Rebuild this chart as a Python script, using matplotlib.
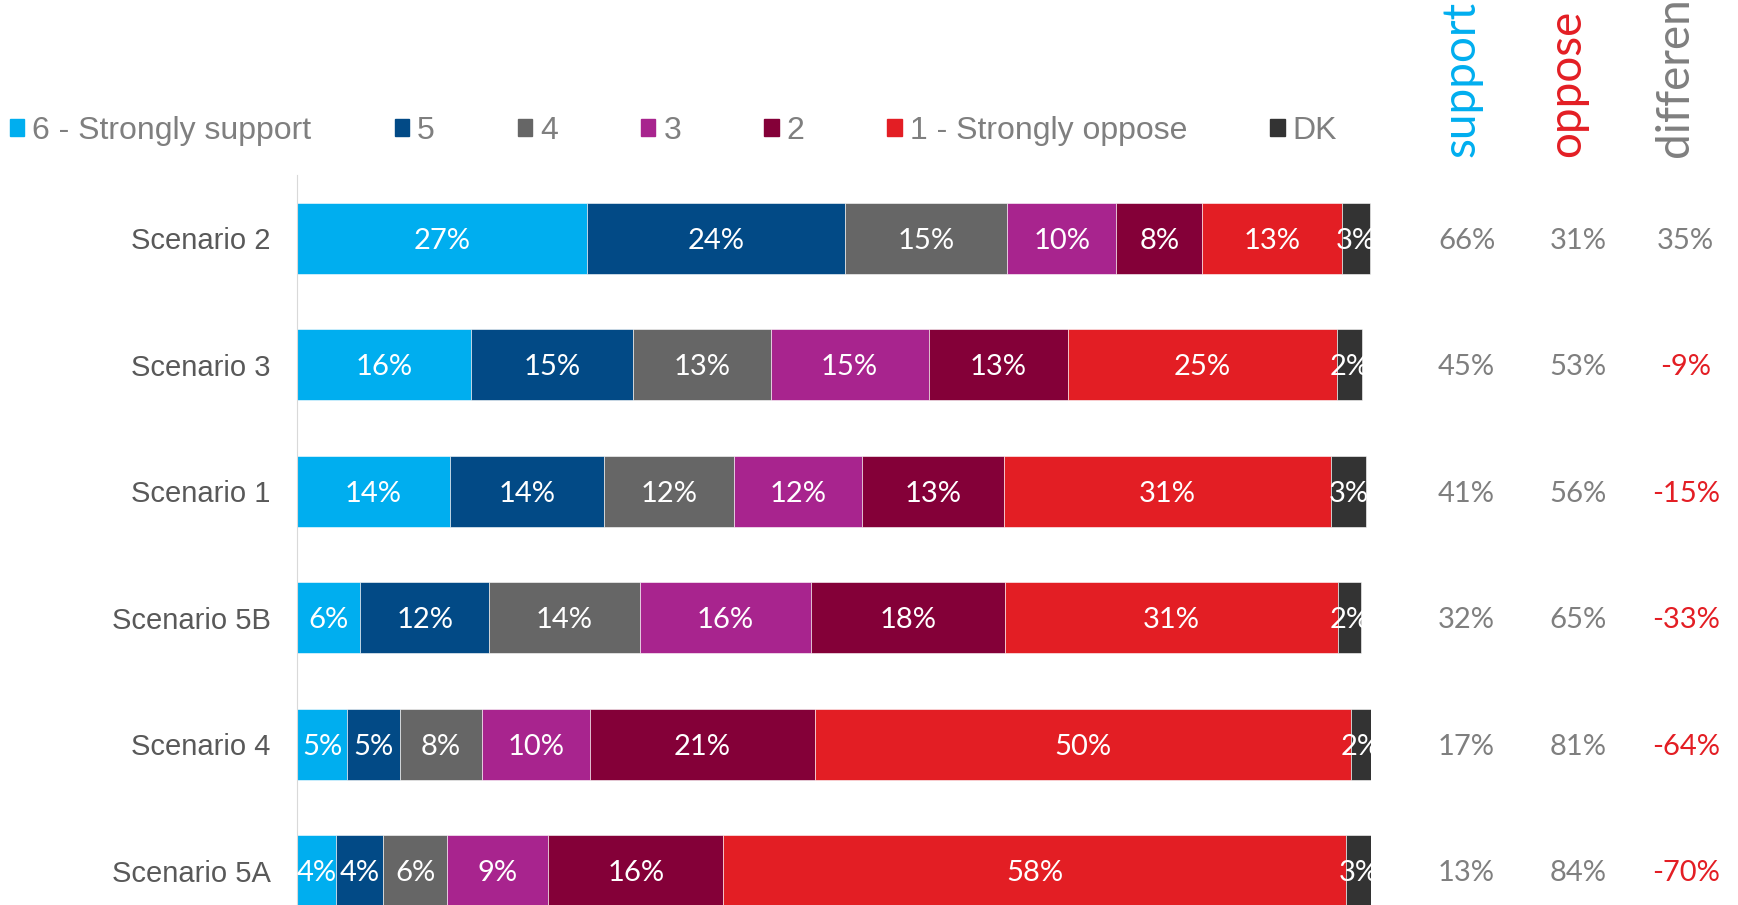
import matplotlib.pyplot as plt
from matplotlib.patches import Patch

# data
scenarios = ['Scenario 2', 'Scenario 3', 'Scenario 1', 'Scenario 5B', 'Scenario 4', 'Scenario 5A']
levels = ['6 - Strongly support', '5', '4', '3', '2', '1 - Strongly oppose', 'DK']
shares = [
    [27.0, 24.0, 15.1, 10.2, 8.0, 13.0, 2.6],
    [16.2, 15.1, 12.8, 14.7, 13.0, 25.0, 2.4],
    [14.2, 14.4, 12.1, 11.9, 13.2, 30.5, 3.2],
    [5.9, 12.0, 14.0, 16.0, 18.0, 31.0, 2.2],
    [4.7, 4.9, 7.6, 10.1, 20.9, 49.9, 1.9],
    [3.6, 4.4, 6.0, 9.4, 16.3, 58.0, 2.3],
]
labels = [
    ['27%', '24%', '15%', '10%', '8%', '13%', '3%'],
    ['16%', '15%', '13%', '15%', '13%', '25%', '2%'],
    ['14%', '14%', '12%', '12%', '13%', '31%', '3%'],
    ['6%', '12%', '14%', '16%', '18%', '31%', '2%'],
    ['5%', '5%', '8%', '10%', '21%', '50%', '2%'],
    ['4%', '4%', '6%', '9%', '16%', '58%', '3%'],
]
support = ['66%', '45%', '41%', '32%', '17%', '13%']
oppose = ['31%', '53%', '56%', '65%', '81%', '84%']
difference = ['35%', '-9%', '-15%', '-33%', '-64%', '-70%']

colors = ['#00AEEF', '#024A86', '#666666', '#A8248E', '#840038', '#E31E24', '#333333']
gris = '#7F7F7F'
rojo = '#E31E24'

fig = plt.figure(figsize=(17.38, 9.05), dpi=100)
ax = fig.add_axes([297 / 1738, 0, 1074 / 1738, 1 - 175 / 905])

# barras apiladas
for i, fila in enumerate(shares):
    left = 0
    for j, v in enumerate(fila):
        ax.barh(i, v, left=left, height=0.56, color=colors[j],
                edgecolor='white', linewidth=0.4)
        ax.text(left + v / 2, i + 0.02, labels[i][j], ha='center', va='center',
                color='white', fontsize=21, family='Lato', clip_on=True)
        left += v

ax.set_xlim(0, 100)
ax.set_ylim(5.27, -0.5)
ax.set_yticks(range(len(scenarios)))
ax.set_yticklabels(scenarios, fontsize=21, family='Liberation Sans', color='#595959')
ax.tick_params(axis='y', length=0, pad=19)
ax.set_xticks([])
for s in ['top', 'right', 'bottom']:
    ax.spines[s].set_visible(False)
ax.spines['left'].set_color('#D9D9D9')

# columnas de la derecha
tr = ax.get_yaxis_transform()
for i in range(len(scenarios)):
    ax.text(1.089, i + 0.02, support[i], transform=tr, ha='center', va='center',
            fontsize=21, family='Lato', color=gris, clip_on=False)
    ax.text(1.193, i + 0.02, oppose[i], transform=tr, ha='center', va='center',
            fontsize=21, family='Lato', color=gris, clip_on=False)
    c = rojo if difference[i].startswith('-') else gris
    ax.text(1.293, i + 0.02, difference[i], transform=tr, ha='center', va='center',
            fontsize=21, family='Lato', color=c, clip_on=False)

fig.text(1461 / 1738, 1 - 157 / 905, 'support', rotation=90, ha='center', va='bottom',
         fontsize=33, family='Lato', color='#00AEEF')
fig.text(1567 / 1738, 1 - 157 / 905, 'oppose', rotation=90, ha='center', va='bottom',
         fontsize=33, family='Lato', color=rojo)
fig.text(1675 / 1738, 1 - 157 / 905, 'difference', rotation=90, ha='center', va='bottom',
         fontsize=33, family='Lato', color=gris)

# leyenda
handles = [Patch(color=c, label=l) for c, l in zip(colors, levels)]
fig.legend(handles=handles, loc='center left', bbox_to_anchor=(10 / 1738, 1 - 131 / 905),
           ncol=7, frameon=False, borderpad=0, borderaxespad=0,
           handlelength=0.45, handleheight=0.45, handletextpad=0.25, columnspacing=2.6,
           prop={'family': 'Liberation Sans', 'size': 23}, labelcolor=gris)

fig.savefig('out.png', dpi=100)
